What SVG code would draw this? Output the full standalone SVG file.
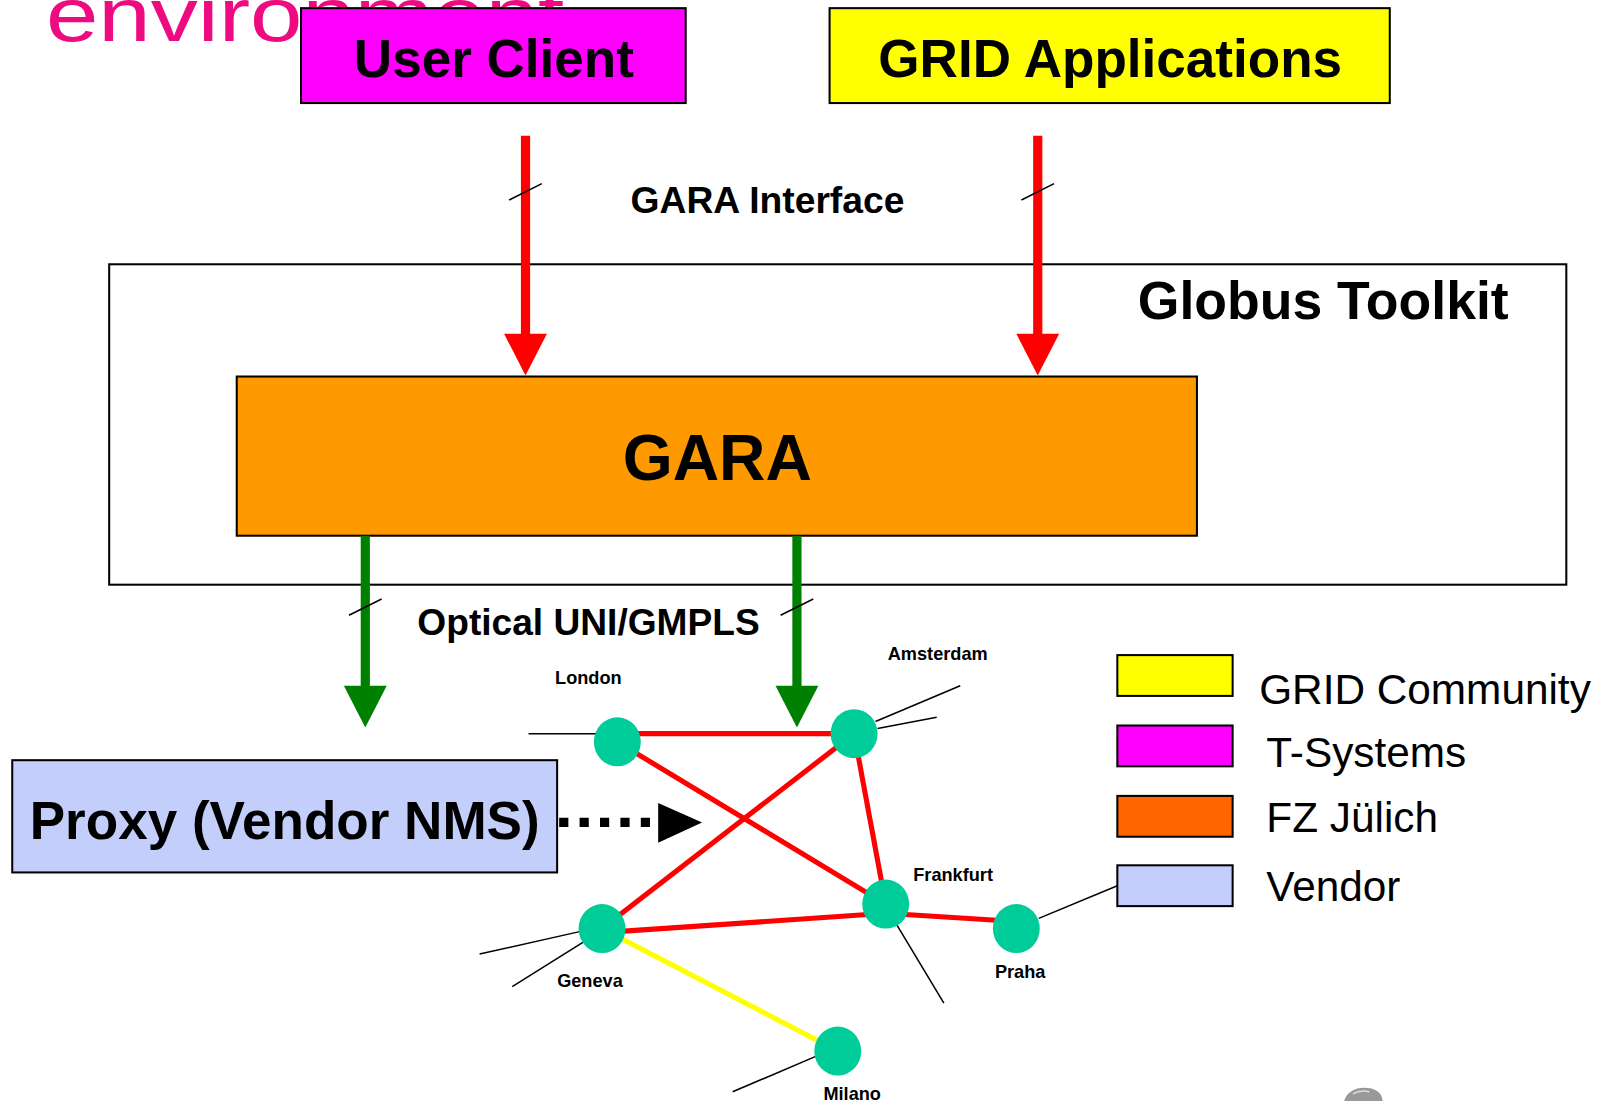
<svg xmlns="http://www.w3.org/2000/svg" width="1599" height="1101" viewBox="0 0 1599 1101">
<style>
.b{font-family:"Liberation Sans",Arial,sans-serif;font-weight:bold;fill:#000}
.r{font-family:"Liberation Sans",Arial,sans-serif;fill:#000}
.box{stroke:#000;stroke-width:2}
.red{stroke:#FF0000;stroke-width:9;fill:none}
.grn{stroke:#008000;stroke-width:9;fill:none}
.tick{stroke:#000;stroke-width:1.5}
.link{stroke:#FF0000;stroke-width:5}
.thin{stroke:#000;stroke-width:1.5}
.node{fill:#00CC99}
.city{font-size:17.8px}
</style>
<rect width="1599" height="1101" fill="#fff"/>
<g transform="scale(1.0204)">
<text x="45" y="40" font-family="Liberation Sans,Arial,sans-serif" font-size="74" fill="#EE0A80" textLength="508" lengthAdjust="spacingAndGlyphs">environment</text>
<g id="user-client">
<rect class="box" x="295" y="8" width="377" height="93" fill="#FF00FF"/>
<text class="b" x="484" y="75" font-size="52" text-anchor="middle">User Client</text>
</g>
<g id="grid-applications">
<rect class="box" x="813" y="8" width="549" height="93" fill="#FFFF00"/>
<text class="b" x="1088" y="75" font-size="52" text-anchor="middle">GRID Applications</text>
</g>
<g id="globus-toolkit">
<rect class="box" x="107" y="259" width="1428" height="314" fill="none"/>
<text class="b" x="1115" y="313" font-size="52.5">Globus Toolkit</text>
</g>
<g id="gara">
<rect class="box" x="232" y="369" width="941" height="156" fill="#FF9900"/>
<text class="b" x="703" y="470" font-size="63" text-anchor="middle">GARA</text>
</g>
<g id="proxy">
<rect class="box" x="12" y="745" width="534" height="110" fill="#C3CEFB"/>
<text class="b" x="279" y="822" font-size="52" text-anchor="middle">Proxy (Vendor NMS)</text>
</g>
<g id="connectors">
<line class="red" x1="515" y1="133" x2="515" y2="330"/>
<polygon points="494,327 536,327 515,368" fill="#FF0000"/>
<line class="red" x1="1017" y1="133" x2="1017" y2="330"/>
<polygon points="996,327 1038,327 1017,368" fill="#FF0000"/>
<line class="tick" x1="499" y1="196" x2="531" y2="180"/>
<line class="tick" x1="1001" y1="196" x2="1033" y2="180"/>
<text class="b" x="618" y="209" font-size="36.5">GARA Interface</text>
<line class="grn" x1="358" y1="525" x2="358" y2="676"/>
<polygon points="337,672 379,672 358,713" fill="#008000"/>
<line class="grn" x1="781" y1="525" x2="781" y2="676"/>
<polygon points="760,672 802,672 781,713" fill="#008000"/>
<line class="tick" x1="342" y1="603" x2="374" y2="587"/>
<line class="tick" x1="765" y1="603" x2="797" y2="587"/>
<text class="b" x="409" y="622" font-size="36.4">Optical UNI/GMPLS</text>
<line x1="548" y1="806" x2="640" y2="806" stroke="#000" stroke-width="9" stroke-dasharray="9,11"/>
<polygon points="645,787 688,806 645,826" fill="#000"/>
</g>
<g id="network">
<line class="thin" x1="518" y1="719" x2="585" y2="719"/>
<line class="thin" x1="858" y1="707" x2="941" y2="672"/>
<line class="thin" x1="860" y1="714" x2="918" y2="703"/>
<line class="thin" x1="470" y1="935" x2="568" y2="913"/>
<line class="thin" x1="502" y1="967" x2="572" y2="923"/>
<line class="thin" x1="878" y1="905" x2="925" y2="983"/>
<line class="thin" x1="718" y1="1070" x2="800" y2="1035"/>
<line class="thin" x1="1018" y1="900" x2="1095" y2="868"/>
<line class="link" x1="605" y1="719" x2="837" y2="719"/>
<line class="link" x1="605" y1="727" x2="868" y2="886"/>
<line class="link" x1="837" y1="719" x2="590" y2="910"/>
<line class="link" x1="837" y1="719" x2="868" y2="886"/>
<line class="link" x1="590" y1="914" x2="868" y2="895"/>
<line class="link" x1="868" y1="895" x2="996" y2="903"/>
<line x1="590" y1="910" x2="821" y2="1030" stroke="#FFFF00" stroke-width="5"/>
<ellipse class="node" cx="605" cy="727" rx="23" ry="24"/>
<ellipse class="node" cx="837" cy="719" rx="23" ry="24"/>
<ellipse class="node" cx="868" cy="886" rx="23" ry="24"/>
<ellipse class="node" cx="590" cy="910" rx="23" ry="24"/>
<ellipse class="node" cx="821" cy="1030" rx="23" ry="24"/>
<ellipse class="node" cx="996" cy="910" rx="23" ry="24"/>
<text class="b city" x="544" y="670">London</text>
<text class="b city" x="870" y="647">Amsterdam</text>
<text class="b city" x="895" y="863">Frankfurt</text>
<text class="b city" x="546" y="967">Geneva</text>
<text class="b city" x="975" y="958">Praha</text>
<text class="b city" x="807" y="1078">Milano</text>
</g>
<g id="legend">
<rect class="box" x="1095" y="642" width="113" height="40" fill="#FFFF00" stroke-width="1.5"/>
<rect class="box" x="1095" y="711" width="113" height="40" fill="#FF00FF" stroke-width="1.5"/>
<rect class="box" x="1095" y="780" width="113" height="40" fill="#FF6600" stroke-width="1.5"/>
<rect class="box" x="1095" y="848" width="113" height="40" fill="#C3CEFB" stroke-width="1.5"/>
<text class="r" x="1234" y="690" font-size="41.5">GRID Community</text>
<text class="r" x="1241" y="752" font-size="41.5">T-Systems</text>
<text class="r" x="1241" y="815" font-size="41.5">FZ Jülich</text>
<text class="r" x="1241" y="883" font-size="41.5">Vendor</text>
</g>
<path d="M1317,1080 C1319,1071 1327,1066 1337,1066 C1348,1066 1355,1071 1355,1080 Z" fill="#999"/>
<path d="M1326,1072 C1331,1069 1338,1069 1342,1070" stroke="#ddd" stroke-width="1.5" fill="none"/>
</g>
</svg>
